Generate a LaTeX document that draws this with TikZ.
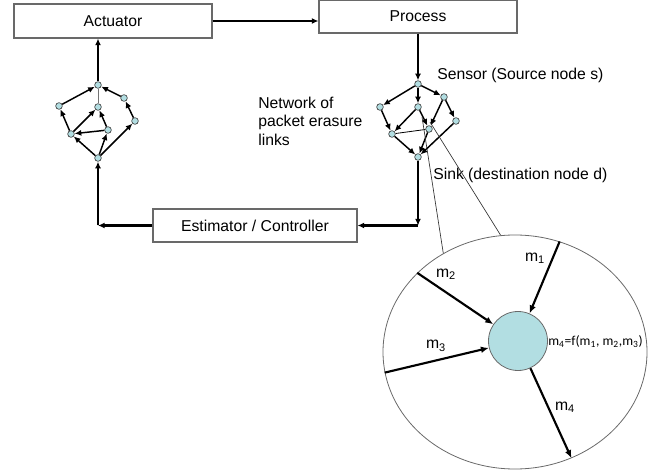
\documentclass[tikz,border=0pt]{standalone}
\usepackage{fontspec}
\setmainfont{Liberation Sans}
\newfontfamily\formulafont{Carlito}
\usetikzlibrary{arrows.meta,shapes.geometric}
\definecolor{hubcyan}{RGB}{178,222,226}
\definecolor{boxgray}{RGB}{105,105,105}
\tikzset{
  blockbox/.style={draw=boxgray,line width=0.8pt,inner sep=0pt,font=\fontsize{11.8}{14}\selectfont},
  netnode/.style={circle,draw=black!75,fill=hubcyan,line width=0.5pt,minimum size=5pt,inner sep=0pt},
  mainline/.style={line width=1.9pt,-{Latex[length=5pt,width=4.5pt]}},
  netedge/.style={line width=1.1pt,-{Latex[length=5pt,width=4.5pt]}},
  plainedge/.style={line width=0.6pt},
  msgline/.style={line width=1.6pt,-{Latex[length=6pt,width=5pt]}},
  thinline/.style={line width=0.5pt,draw=black!80},
  labeltext/.style={font=\fontsize{11.8}{13.9}\selectfont,inner sep=0pt},
  msgtext/.style={font=\fontsize{11.8}{13}\selectfont,inner sep=0pt}
}
\begin{document}
\begin{tikzpicture}[x=0.75pt,y=-0.75pt]
  \useasboundingbox (0,0) rectangle (666,473);
  \node[blockbox,minimum width=148.5pt,minimum height=25.5pt] (actuator) at (113,21) {Actuator};
  \node[blockbox,minimum width=148.5pt,minimum height=24.75pt] (process) at (418,16.5) {Process};
  \node[blockbox,minimum width=153pt,minimum height=24.75pt] (estimator) at (255,225.5) {Estimator / Controller};
  \draw
    (98,85) node[netnode] (l0){}
    (59,106) node[netnode] (l1){}
    (98,107) node[netnode] (l2){}
    (124,98) node[netnode] (l3){}
    (135,121) node[netnode] (l4){}
    (71,134) node[netnode] (l5){}
    (108,130) node[netnode] (l6){}
    (98,158) node[netnode] (l7){};
  \draw
    (418,84) node[netnode] (s){}
    (380,107) node[netnode] (r1){}
    (418,107) node[netnode] (r2){}
    (444,97) node[netnode] (r3){}
    (456,121) node[netnode] (r4){}
    (392,134) node[netnode] (r5){}
    (429,129) node[netnode] (r6){}
    (418,157) node[netnode] (d){};
  \begin{scope}[netedge]
    \draw (l1) to (l0);
    \draw (l3) to (l0);
    \draw (l4) to (l3);
    \draw (l5) to (l1);
    \draw (l5) to (l2);
    \draw (l6) to (l2);
    \draw (l6) to (l5);
    \draw (l7) to (l5);
    \draw (l7) to (l6);
    \draw (l7) to (l4);
    \draw (s) to (r1);
    \draw (s) to (r2);
    \draw (s) to (r3);
    \draw (r3) to (r4);
    \draw (r3) to (r6);
    \draw (r1) to (r5);
    \draw (r2) to (r5);
    \draw (r2) to (r6);
    \draw (r5) to (d);
    \draw (r6) to (d);
    \draw (r4) to (d);
  \end{scope}
  \draw[plainedge,draw=black!55] (l2) to (l0);
  \draw[plainedge] (r5) to (r6);
  \coordinate (rcorner) at (d |- estimator.east);
  \coordinate (lcorner) at (l7 |- estimator.west);
  \draw[mainline] (actuator.east) -- (process.west |- actuator.east);
  \draw[mainline] (process.south -| s) -- (s);
  \draw[mainline] (d) -- (rcorner);
  \draw[mainline] (rcorner) -- (estimator.east);
  \draw[mainline] (estimator.west) -- (lcorner);
  \draw[mainline] (lcorner) -- (l7);
  \draw[mainline] (l0) -- (l0 |- actuator.south);
  \node[labeltext,anchor=west] (sensorlabel) at (437,75) {Sensor (Source node s)};
  \node[labeltext,anchor=west] (sinklabel) at (433,175) {Sink (destination node d)};
  \node[labeltext,anchor=west,align=left] (netlabel) at (258,121) {Network of\\packet erasure\\links};
  \node[ellipse,draw=boxgray,line width=0.6pt,minimum width=198pt,minimum height=175.5pt,inner sep=0pt] (lens) at (515,352) {};
  \node[circle,draw=boxgray,line width=0.6pt,fill=hubcyan,minimum size=44.25pt,inner sep=0pt] (hub) at (518,341) {};
  \coordinate (zoomA) at (422,117);
  \coordinate (zoomB) at (430,122);
  \draw[thinline] (zoomA) -- (lens.126.5);
  \draw[thinline] (zoomB) -- (lens.97.9);
  \draw[msgline] (lens.68) -- (hub);
  \draw[msgline] (lens.141.9) -- (hub);
  \draw[msgline] (lens.189.9) -- (hub);
  \draw[msgline] (hub) -- (lens.-62.4);
  \node[msgtext] (m1) at (535,258) {m\textsubscript{1}};
  \node[msgtext] (m2) at (446,274) {m\textsubscript{2}};
  \node[msgtext] (m3) at (436,346) {m\textsubscript{3}};
  \node[msgtext] (m4) at (565,407) {m\textsubscript{4}};
  \node[anchor=west,inner sep=0pt,font=\formulafont\fontsize{10.2}{12}\selectfont] (formula) at (548,342) {m\textsubscript{4}=f(m\textsubscript{1}, m\textsubscript{2},m\textsubscript{3})};
\end{tikzpicture}
\end{document}
